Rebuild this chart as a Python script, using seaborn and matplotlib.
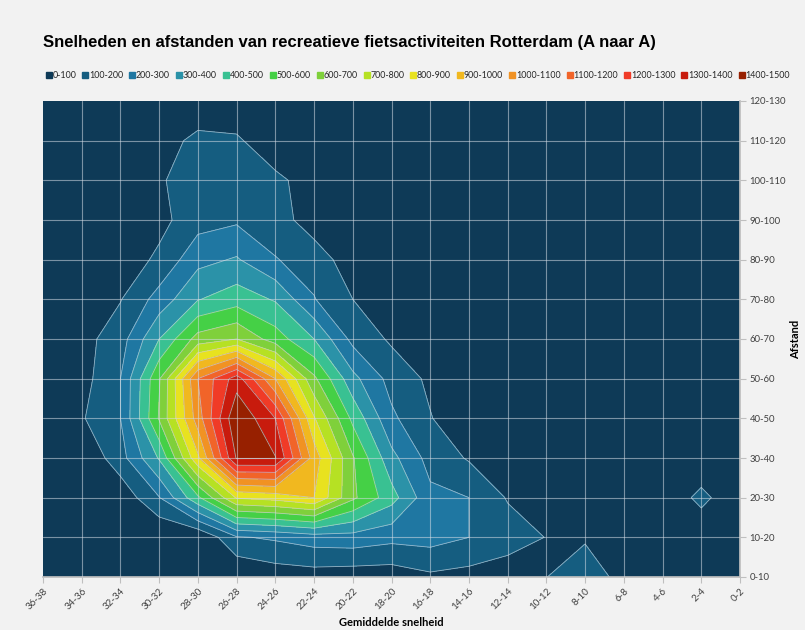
import numpy as np
import matplotlib
matplotlib.use("Agg")
import matplotlib.pyplot as plt
from matplotlib.lines import Line2D
import seaborn as sns

# ---- data ----
speed_labels = ["36-38", "34-36", "32-34", "30-32", "28-30", "26-28", "24-26", "22-24",
                "20-22", "18-20", "16-18", "14-16", "12-14", "10-12", "8-10", "6-8",
                "4-6", "2-4", "0-2"]
dist_labels = ["0-10", "10-20", "20-30", "30-40", "40-50", "50-60", "60-70", "70-80",
               "80-90", "90-100", "100-110", "110-120", "120-130"]
level_labels = ["0-100", "100-200", "200-300", "300-400", "400-500", "500-600", "600-700",
                "700-800", "800-900", "900-1000", "1000-1100", "1100-1200", "1200-1300",
                "1300-1400", "1400-1500"]
level_colors = ["#0e3a57", "#155d80", "#1f77a2", "#2b92a8", "#39c192", "#45d046", "#7fd03b",
                "#b6e123", "#e8e21f", "#f1b81f", "#f19223", "#f16429", "#f03b27", "#c81b0d",
                "#972000"]

# counts per distance row (0-10 first), columns follow speed_labels
row_0_10    = [0, 0, 0, 0, 0, 0, 40, 50, 40, 40, 80, 63, 40, 98, 175, 55, 0, 0, 0]
row_10_20   = [0, 0, 0, 0, 0, 190, 215, 250, 260, 230, 240, 200, 150, 97, 85, 20, 0, 0, 0]
row_20_30   = [0, 0, 30, 195, 480, 810, 840, 900, 620, 440, 225, 200, 92, 40, 0, 0, 0, 135, 0]
row_30_40   = [0, 10, 160, 410, 880, 1410, 1405, 955, 610, 330, 163, 90, 30, 0, 0, 0, 0, 0, 0]
row_40_50   = [0, 90, 200, 610, 1050, 1490, 1300, 810, 475, 220, 105, 30, 0, 0, 0, 0, 0, 0, 0]
row_50_60   = [0, 60, 200, 590, 1100, 1350, 1000, 620, 330, 163, 81, 20, 0, 0, 0, 0, 0, 0, 0]
row_60_70   = [0, 64, 156, 400, 640, 700, 550, 400, 170, 85, 20, 0, 0, 0, 0, 0, 0, 0, 0]
row_70_80   = [0, 20, 95, 240, 395, 455, 390, 205, 100, 20, 0, 0, 0, 0, 0, 0, 0, 0, 0]
row_80_90   = [0, 0, 40, 120, 270, 310, 205, 158, 40, 0, 0, 0, 0, 0, 0, 0, 0, 0, 0]
row_90_100  = [0, 0, 10, 70, 160, 185, 150, 45, 0, 0, 0, 0, 0, 0, 0, 0, 0, 0, 0]
row_100_110 = [0, 0, 0, 90, 145, 150, 130, 40, 0, 0, 0, 0, 0, 0, 0, 0, 0, 0, 0]
row_110_120 = [0, 0, 0, 40, 135, 120, 10, 0, 0, 0, 0, 0, 0, 0, 0, 0, 0, 0, 0]
row_120_130 = [0] * 19

Z = np.array([row_0_10, row_10_20, row_20_30, row_30_40, row_40_50, row_50_60, row_60_70,
              row_70_80, row_80_90, row_90_100, row_100_110, row_110_120, row_120_130],
             dtype=float)

sns.set_theme(style="white")
plt.rcParams["font.family"] = ["Lato", "DejaVu Sans"]

W, H = 805, 630
fig = plt.figure(figsize=(W / 100, H / 100), dpi=100, facecolor="#f2f2f2")
ax = fig.add_axes([43 / W, 1 - 577 / H, (740 - 43) / W, (577 - 101) / H])
ax.set_facecolor(level_colors[0])

x = np.arange(len(speed_labels))
y = np.arange(len(dist_labels))
levels = np.arange(0, 1501, 100)
ax.contourf(x, y, Z, levels=levels, colors=level_colors)
ax.contour(x, y, Z, levels=levels[1:-1], colors="#c0d0dc", linewidths=0.6, alpha=0.75)

ax.set_xlim(0, len(speed_labels) - 1)
ax.set_ylim(0, len(dist_labels) - 1)

for xi in x[1:-1]:
    ax.axvline(xi, color="#d4dce4", lw=0.8, alpha=0.55, zorder=5)
for yi in y[1:-1]:
    ax.axhline(yi, color="#d4dce4", lw=0.8, alpha=0.55, zorder=5)

ax.set_xticks(x)
ax.set_xticklabels(speed_labels, rotation=45, ha="right", va="top",
                   rotation_mode="anchor", fontsize=7, color="#404040")
ax.yaxis.tick_right()
ax.yaxis.set_label_position("right")
ax.set_yticks(y)
ax.set_yticklabels(dist_labels, fontsize=6.8, color="#404040")
ax.tick_params(axis="x", length=4, width=0.8, color="#bfbfbf", pad=3, bottom=True)
ax.tick_params(axis="y", length=4, width=0.8, color="#bfbfbf", pad=3, right=True, left=False)
for s in ["top", "left"]:
    ax.spines[s].set_visible(False)
ax.spines["bottom"].set_color("#bfbfbf")
ax.spines["right"].set_color("#bfbfbf")

ax.set_xlabel("Gemiddelde snelheid", fontsize=8, fontweight="bold", color="#000000", labelpad=4)
ax.set_ylabel("Afstand", fontsize=8, fontweight="bold", color="#000000", labelpad=3)

fig.text(43 / W, 1 - 47 / H,
         "Snelheden en afstanden van recreatieve fietsactiviteiten Rotterdam (A naar A)",
         fontsize=12, fontweight="bold", family=["Liberation Sans", "DejaVu Sans"],
         color="#000000", va="baseline", ha="left")

handles = [Line2D([], [], marker="s", ls="none", color=c, markersize=3.8) for c in level_colors]
fig.legend(handles, level_labels, loc="center left", bbox_to_anchor=(46 / W, 1 - 76 / H),
           ncol=len(level_labels), frameon=False, fontsize=6.4, handlelength=0.6,
           handletextpad=0.12, columnspacing=0.72, borderaxespad=0, borderpad=0)

fig.savefig("out.png", dpi=100, facecolor=fig.get_facecolor())
